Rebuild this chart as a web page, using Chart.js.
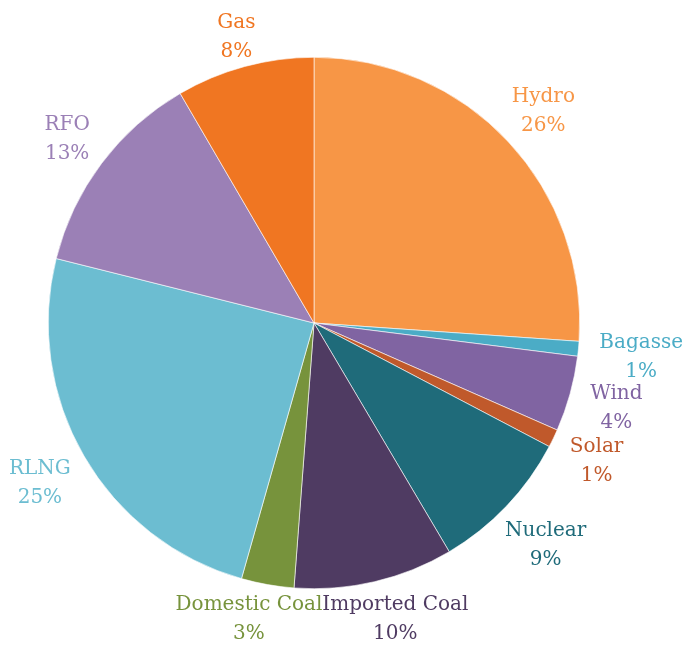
<!DOCTYPE html>
<html>
<head>
<meta charset="utf-8">
<script src="https://cdn.jsdelivr.net/npm/chart.js@4"></script>
<style>
  html, body { margin: 0; padding: 0; background: #fff; }
  #wrap { width: 686px; height: 645px; }
</style>
</head>
<body>
<div id="wrap"><canvas id="chartMix" width="686" height="645"></canvas></div>
<script>
// energy mix shares (%), clockwise from 12 o'clock
const sources = ['Hydro', 'Bagasse', 'Wind', 'Solar', 'Nuclear', 'Imported Coal', 'Domestic Coal', 'RLNG', 'RFO', 'Gas'];
const shares = [26.1, 0.9, 4.6, 1.1, 8.8, 9.7, 3.2, 24.5, 12.7, 8.4];
const shareLabels = ['26%', '1%', '4%', '1%', '9%', '10%', '3%', '25%', '13%', '8%'];
const colors = ['#f79646', '#4bacc6', '#8064a2', '#c0592b', '#1f6b7a', '#4f3b62', '#77933c', '#6cbdd1', '#9b80b6', '#f07622'];

// labels outside the pie, along the slice mid-angle
const outsideLabels = {
    id: 'outsideLabels',
    afterDatasetsDraw(chart) {
        const ctx = chart.ctx;
        const arcs = chart.getDatasetMeta(0).data;
        const lineH = 29;
        const boxH = 43;
        const padX = 14;
        const corner = 14;
        const gap = 6;
        ctx.save();
        ctx.font = '20px "DejaVu Serif"';
        ctx.textAlign = 'center';
        ctx.textBaseline = 'middle';
        const boxes = arcs.map((arc, i) => {
            const p = arc.getProps(['x', 'y', 'startAngle', 'endAngle', 'outerRadius'], true);
            const mid = (p.startAngle + p.endAngle) / 2;
            const w = Math.max(ctx.measureText(sources[i]).width, ctx.measureText(shareLabels[i]).width);
            const hw = w / 2 + padX - corner, hh = boxH / 2 - corner;
            const cx = Math.cos(mid), cy = Math.sin(mid);
            // push rounded box out until it clears the pie
            let d = p.outerRadius;
            for (let k = 0; k < 400; k++) {
                const bx = p.x + cx * d, by = p.y + cy * d;
                const nx = Math.max(bx - hw, Math.min(p.x, bx + hw));
                const ny = Math.max(by - hh, Math.min(p.y, by + hh));
                if (Math.hypot(nx - p.x, ny - p.y) - corner >= p.outerRadius + gap) break;
                d += 1;
            }
            return { x: p.x + cx * d, y: p.y + cy * d, w: w };
        });
        // spread neighbours that collide sideways
        for (let i = 0; i < boxes.length; i++) {
            const a = boxes[i], b = boxes[(i + 1) % boxes.length];
            if (Math.abs(a.y - b.y) < boxH) {
                const overlap = (a.w + b.w) / 2 - Math.abs(a.x - b.x);
                if (overlap > 0) {
                    const s = a.x < b.x ? -1 : 1;
                    a.x += s * overlap / 2;
                    b.x -= s * overlap / 2;
                }
            }
        }
        boxes.forEach((bx, i) => {
            ctx.fillStyle = colors[i];
            ctx.fillText(sources[i], bx.x, bx.y - lineH / 2 + 2);
            ctx.fillText(shareLabels[i], bx.x, bx.y + lineH / 2 + 2);
        });
        ctx.restore();
    }
};

const ctx = document.getElementById('chartMix').getContext('2d');
let chartMix = new Chart(ctx, {
    type: 'pie',
    data: {
        labels: sources,
        datasets: [{
            data: shares,
            backgroundColor: colors,
            borderColor: '#ffffff',
            borderWidth: 0.6
        }]
    },
    options: {
        responsive: false,
        animation: false,
        layout: { padding: { left: 48, right: 106, top: 57, bottom: 56 } },
        plugins: {
            legend: { display: false },
            tooltip: { enabled: false }
        }
    },
    plugins: [outsideLabels]
});
</script>
</body>
</html>
